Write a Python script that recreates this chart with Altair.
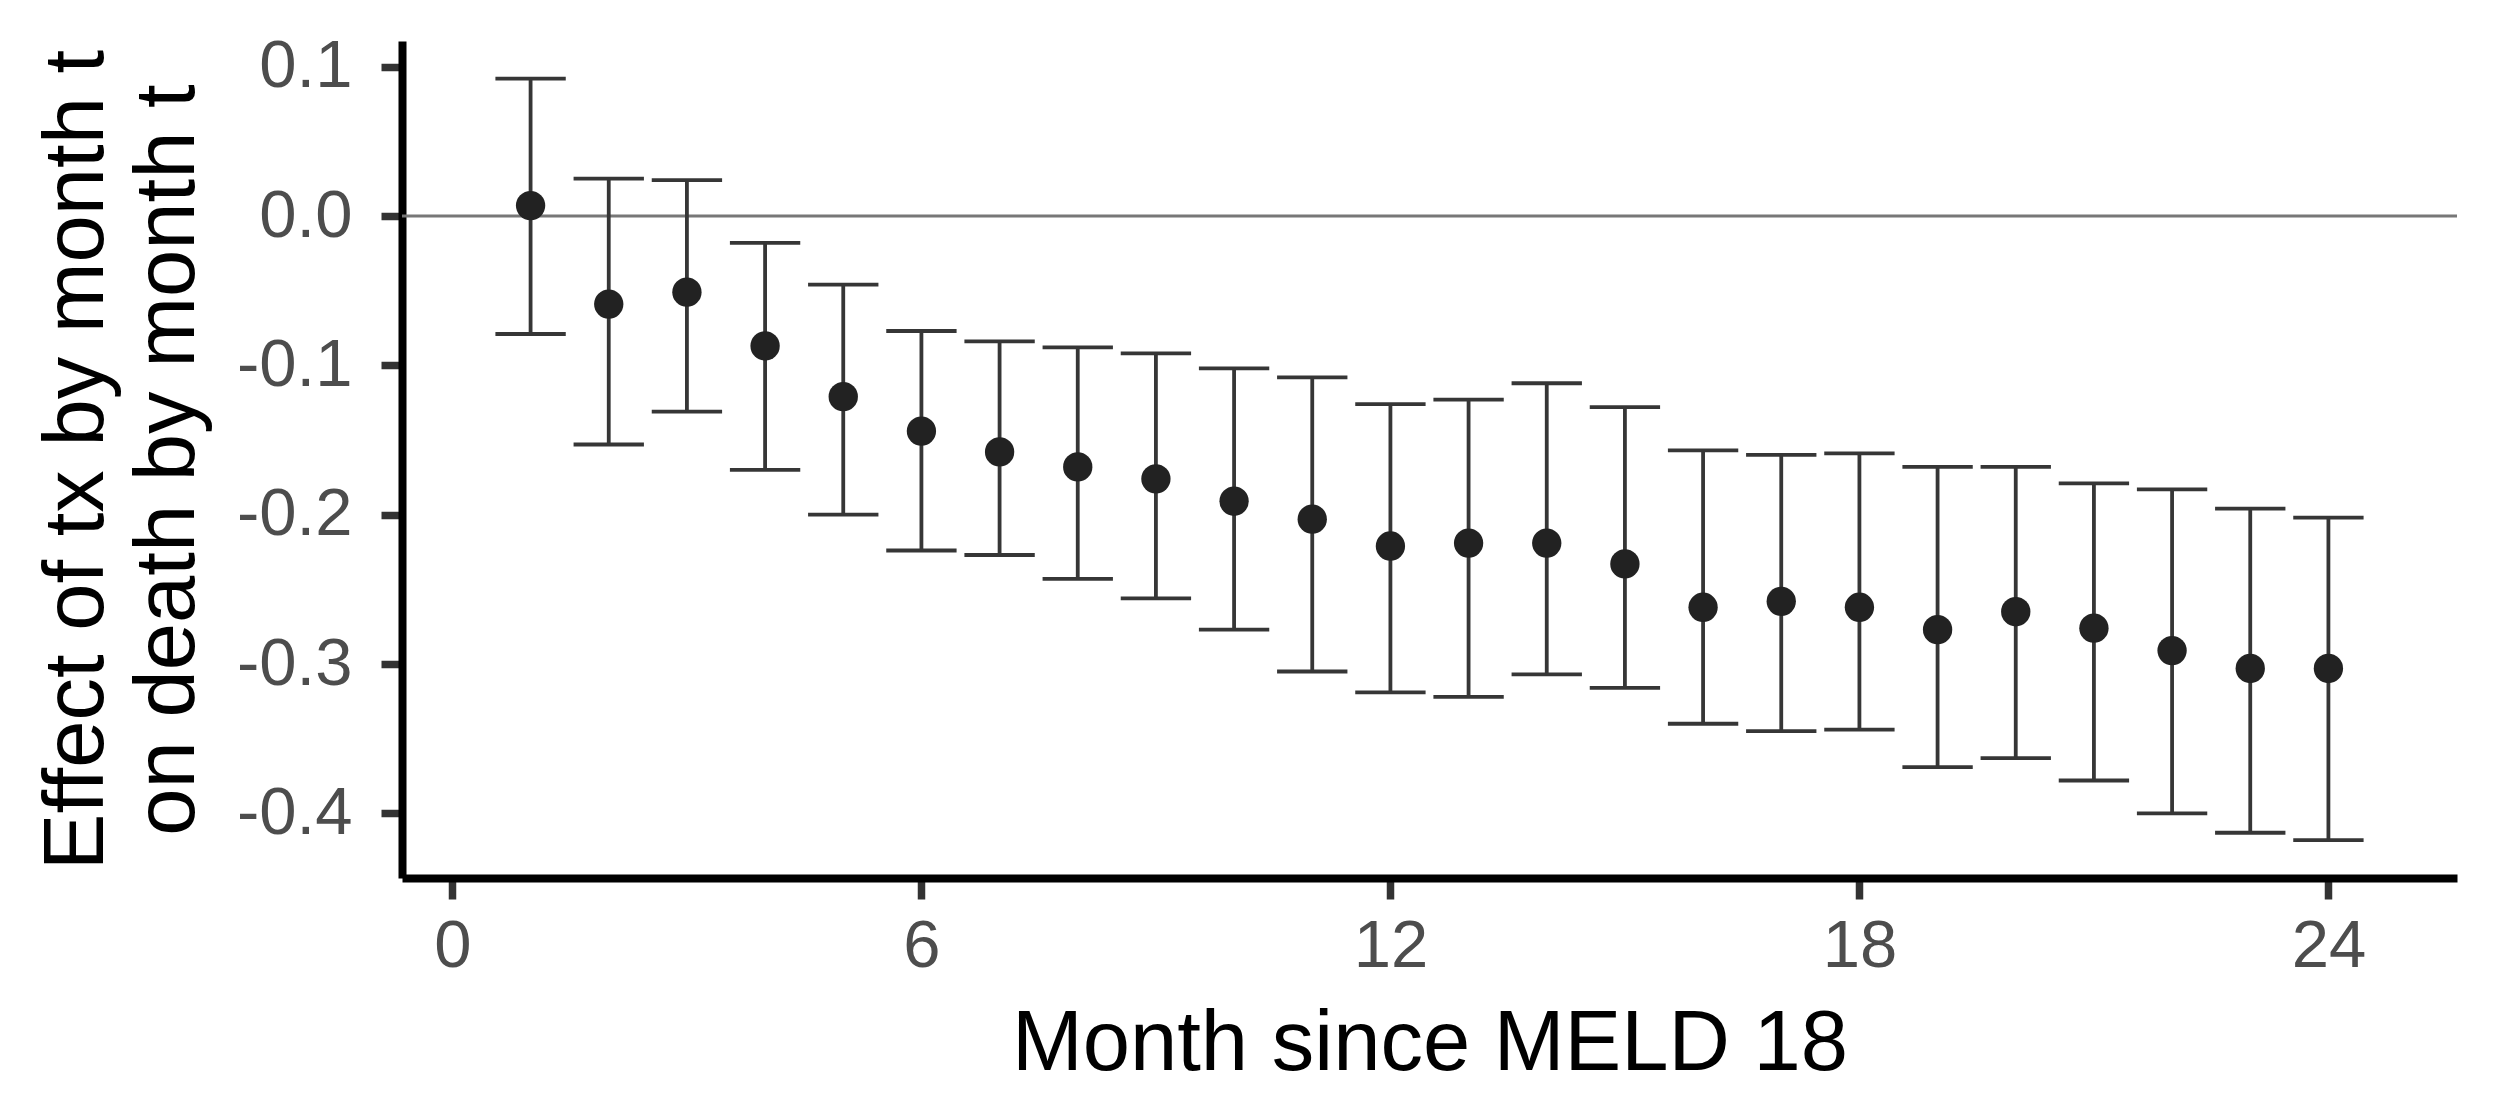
import altair as alt
import pandas as pd

# ---- data ----
months = list(range(1, 25))
estimate = [0.007, -0.059, -0.051, -0.087, -0.121, -0.144, -0.158, -0.168,
            -0.176, -0.191, -0.203, -0.221, -0.219, -0.219, -0.233, -0.262,
            -0.258, -0.262, -0.277, -0.265, -0.276, -0.291, -0.303, -0.303]
ci_upper = [0.092, 0.025, 0.024, -0.018, -0.046, -0.077, -0.084, -0.088,
            -0.092, -0.102, -0.108, -0.126, -0.123, -0.112, -0.128, -0.157,
            -0.160, -0.159, -0.168, -0.168, -0.179, -0.183, -0.196, -0.202]
ci_lower = [-0.079, -0.153, -0.131, -0.170, -0.200, -0.224, -0.227, -0.243,
            -0.256, -0.277, -0.305, -0.319, -0.322, -0.307, -0.316, -0.340,
            -0.345, -0.344, -0.369, -0.363, -0.378, -0.400, -0.413, -0.418]
reference_line = [0.0]
x_ticks = [0, 6, 12, 18, 24]
y_ticks = [-0.4, -0.3, -0.2, -0.1, 0.0, 0.1]
x_title = "Month since MELD 18"
y_title = ["Effect of tx by month t", "on death by month t"]

df = pd.DataFrame({"month": months, "estimate": estimate,
                   "upper": ci_upper, "lower": ci_lower})
ref = pd.DataFrame({"y": reference_line})

FONT = "Liberation Sans"
W, H = 2055, 837
CAP = 0.45
BAR_COLOR = "#363636"
BAR_W = 3.8

x_scale = alt.Scale(domain=[-0.645, 25.645], nice=False, zero=False)
y_scale = alt.Scale(domain=[-0.4433, 0.1172], nice=False, zero=False)

x_axis = alt.Axis(
    title=x_title, values=x_ticks, grid=False,
    domainColor="black", domainWidth=8,
    tickColor="#333333", tickWidth=7.5, tickSize=21,
    labelFont=FONT, labelFontSize=67, labelColor="#4D4D4D",
    labelPadding=14, labelFlush=False,
    titleFont=FONT, titleFontSize=85, titleFontWeight="normal",
    titleColor="black", titleBaseline="alphabetic",
    titleX=W / 2, titleY=191, titleAlign="center",
)
y_axis = alt.Axis(
    title=y_title, values=y_ticks, grid=False,
    labelExpr="replace(format(datum.value, '.1f'), '\u2212', '-')",
    domainColor="black", domainWidth=8,
    tickColor="#333333", tickWidth=7.5, tickSize=21,
    labelFont=FONT, labelFontSize=67, labelColor="#4D4D4D",
    labelPadding=29,
    titleFont=FONT, titleFontSize=85, titleFontWeight="normal",
    titleColor="black", titleBaseline="alphabetic", titleAngle=270,
    titleAlign="center", titleX=-300, titleY=H / 2, titleLineHeight=91,
)

base = alt.Chart(df)

zero_line = alt.Chart(ref).mark_rule(color="#777777", strokeWidth=3).encode(
    y=alt.Y("y:Q", scale=y_scale, axis=y_axis)
)

bars = base.mark_rule(color=BAR_COLOR, strokeWidth=BAR_W).encode(
    x=alt.X("month:Q", scale=x_scale, axis=x_axis),
    y=alt.Y("lower:Q", scale=y_scale, axis=y_axis),
    y2="upper:Q",
)

caps_top = base.transform_calculate(
    x_lo=f"datum.month - {CAP}", x_hi=f"datum.month + {CAP}"
).mark_rule(color=BAR_COLOR, strokeWidth=BAR_W).encode(
    x=alt.X("x_lo:Q", scale=x_scale, axis=x_axis),
    x2="x_hi:Q",
    y=alt.Y("upper:Q", scale=y_scale, axis=y_axis),
)

caps_bot = base.transform_calculate(
    x_lo=f"datum.month - {CAP}", x_hi=f"datum.month + {CAP}"
).mark_rule(color=BAR_COLOR, strokeWidth=BAR_W).encode(
    x=alt.X("x_lo:Q", scale=x_scale, axis=x_axis),
    x2="x_hi:Q",
    y=alt.Y("lower:Q", scale=y_scale, axis=y_axis),
)

points = base.mark_circle(size=860, color="#222222", opacity=1).encode(
    x=alt.X("month:Q", scale=x_scale, axis=x_axis),
    y=alt.Y("estimate:Q", scale=y_scale, axis=y_axis),
)

chart = alt.layer(zero_line, bars, caps_top, caps_bot, points).properties(
    width=W, height=H,
    autosize=alt.AutoSizeParams(type="none"),
    padding={"left": 394, "top": 33, "right": 30, "bottom": 220},
    background="white",
).configure_view(stroke=None)

chart.save("out.html", embed_options={"renderer": "svg", "actions": False})
